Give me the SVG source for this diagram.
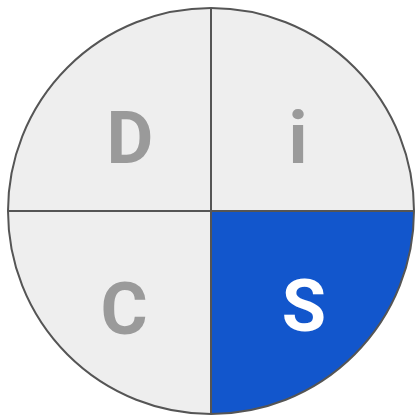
<svg xmlns="http://www.w3.org/2000/svg" width="417" height="416" viewBox="0 0 417 416">
<style>
.q{fill:#eeeeee;stroke:none}
.qs{fill:#1256cc;stroke:none}
.l{font-family:Roboto,"Liberation Sans",sans-serif;font-weight:bold;font-size:72px;text-anchor:middle;fill:#9a9a9a}
.ls{fill:#ffffff}
.ln{stroke:#555555;stroke-width:2;fill:none}
</style>
<g id="D"><path class="q" d="M211,211 L8,211 A203,203 0 0 1 211,8 Z"/><text class="l" x="130" y="163">D</text></g>
<g id="i"><path class="q" d="M211,211 L211,8 A203,203 0 0 1 414,211 Z"/><text class="l" x="298" y="163">i</text></g>
<g id="C"><path class="q" d="M211,211 L211,414 A203,203 0 0 1 8,211 Z"/><text class="l" x="124" y="334">C</text></g>
<g id="S"><path class="qs" d="M211,211 L414,211 A203,203 0 0 1 211,414 Z"/><text class="l ls" x="304" y="331">S</text></g>
<g id="connectors">
<line class="ln" x1="211" y1="8" x2="211" y2="414"/>
<line class="ln" x1="8" y1="211" x2="414" y2="211"/>
<circle class="ln" cx="211" cy="211" r="203"/>
</g>
</svg>
